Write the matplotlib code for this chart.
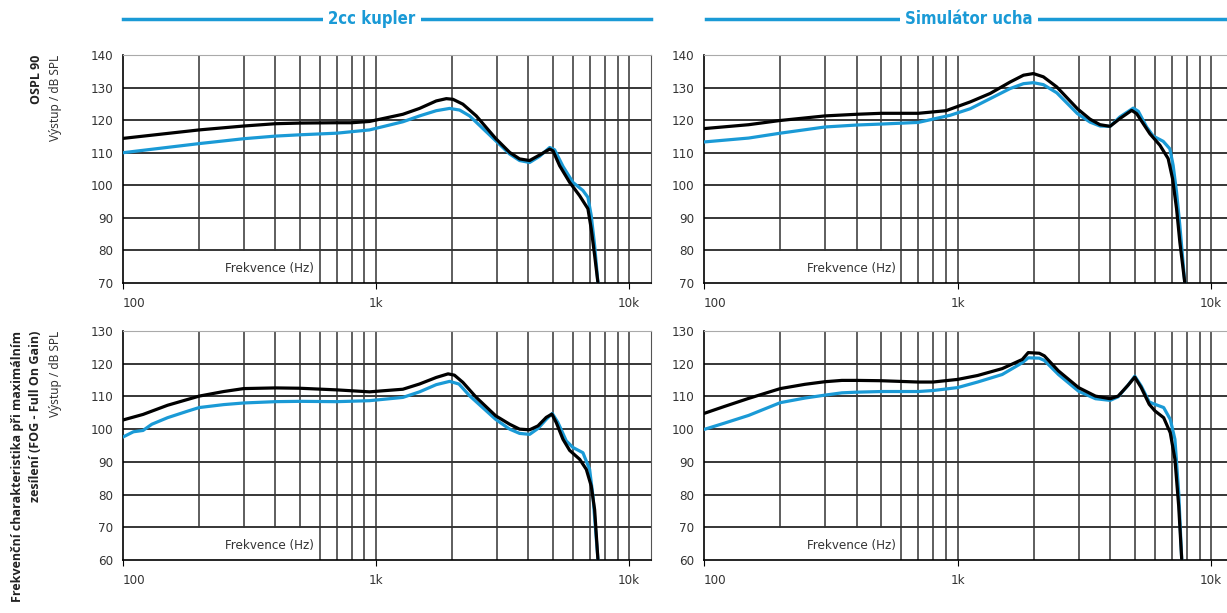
import matplotlib
matplotlib.use("Agg")
from matplotlib import pyplot as plt
from matplotlib.lines import Line2D
from matplotlib.ticker import NullLocator

BLUE = "#1a9ad6"

# --- OSPL 90, 2cc kupler ---
f_ospl_2cc_k = [100, 200, 300, 400, 500, 700, 800, 942, 1276, 1485, 1729, 1895, 2013, 2203,
                2489, 2967, 3372, 3690, 4043, 4428, 4852, 5000, 5313, 5820, 6373, 6872, 7083,
                7305, 7530]
db_ospl_2cc_k = [114.4, 117.0, 118.2, 118.9, 119.1, 119.2, 119.2, 119.6, 121.8, 123.6, 125.9,
                 126.6, 126.4, 124.9, 121.3, 114.4, 110.1, 108.1, 107.6, 109.3, 111.1, 110.6,
                 106.0, 100.9, 96.8, 92.8, 86.6, 78.5, 70.0]
f_ospl_2cc_b = [100, 200, 300, 400, 500, 700, 942, 1276, 1485, 1729, 1952, 2138, 2342, 2967,
                3372, 3690, 4043, 4428, 4852, 5076, 5477, 5995, 6566, 6872, 7083, 7305, 7530]
db_ospl_2cc_b = [110.0, 112.8, 114.3, 115.1, 115.5, 116.0, 117.0, 119.5, 121.3, 122.9, 123.6,
                 123.1, 121.3, 113.7, 109.6, 107.6, 107.0, 108.9, 111.6, 110.9, 105.8, 100.9,
                 98.4, 96.3, 90.7, 81.5, 70.0]

# --- OSPL 90, Simulator ucha ---
f_ospl_sim_k = [100, 150, 200, 300, 400, 500, 700, 900, 1122, 1345, 1612, 1820, 1991, 2180,
                2462, 2970, 3330, 3647, 3993, 4371, 4861, 5085, 5401, 5737, 6281, 6770, 7047,
                7307, 7530, 7876]
db_ospl_sim_k = [117.4, 118.6, 119.9, 121.3, 121.8, 122.1, 122.1, 122.9, 125.6, 128.2, 131.7,
                 133.8, 134.3, 133.3, 130.2, 123.5, 120.3, 118.6, 118.1, 120.5, 123.0, 122.0,
                 118.9, 115.8, 112.3, 108.2, 102.0, 92.8, 82.5, 70.0]
f_ospl_sim_b = [100, 150, 200, 300, 400, 500, 700, 936, 1122, 1345, 1612, 1820, 1991, 2180,
                2462, 2970, 3330, 3647, 3993, 4371, 4933, 5165, 5568, 5912, 6472, 6876, 7085,
                7307, 7530, 7876]
db_ospl_sim_b = [113.3, 114.5, 116.0, 117.9, 118.5, 118.8, 119.3, 121.5, 123.5, 126.6, 129.7,
                 131.2, 131.5, 130.9, 128.4, 122.0, 119.4, 118.2, 118.1, 121.0, 123.7, 122.7,
                 117.9, 115.1, 113.5, 111.2, 106.1, 97.9, 87.6, 70.0]

# --- FOG, 2cc kupler ---
f_fog_2cc_k = [100, 120, 150, 200, 250, 300, 400, 500, 700, 942, 1276, 1485, 1729, 1925, 2040,
               2203, 2489, 2967, 3372, 3690, 4043, 4362, 4704, 4950, 5152, 5477, 5820, 6373,
               6773, 7083, 7305, 7530]
db_fog_2cc_k = [102.8, 104.5, 107.3, 110.1, 111.5, 112.4, 112.6, 112.5, 112.0, 111.4, 112.2,
                113.8, 115.8, 116.9, 116.5, 114.3, 109.7, 104.1, 101.5, 100.0, 99.8, 101.0,
                103.6, 104.6, 102.0, 96.9, 93.5, 90.8, 87.7, 82.6, 75.4, 60.0]
f_fog_2cc_b = [100, 110, 120, 130, 150, 180, 200, 250, 300, 400, 500, 700, 942, 1276, 1485,
               1729, 1952, 2125, 2342, 2967, 3372, 3690, 4043, 4362, 4704, 4969, 5234, 5645,
               5995, 6566, 6979, 7194, 7530]
db_fog_2cc_b = [97.6, 99.2, 99.6, 101.5, 103.5, 105.5, 106.6, 107.5, 108.0, 108.4, 108.5, 108.4,
                108.7, 109.7, 111.4, 113.6, 114.6, 113.8, 110.2, 103.0, 100.0, 98.7, 98.4, 100.2,
                103.0, 104.8, 102.0, 96.4, 94.4, 92.8, 87.7, 79.5, 60.0]

# --- FOG, Simulator ucha ---
f_fog_sim_k = [100, 120, 150, 200, 250, 300, 350, 400, 500, 700, 800, 1000, 1200, 1500, 1800,
               1900, 2100, 2200, 2500, 3000, 3500, 4000, 4300, 4700, 5000, 5300, 5700, 6000,
               6500, 6900, 7200, 7450, 7660]
db_fog_sim_k = [104.8, 106.9, 109.4, 112.4, 113.7, 114.5, 114.9, 114.9, 114.8, 114.4, 114.4,
                115.2, 116.4, 118.5, 121.3, 123.4, 123.2, 122.4, 117.8, 112.7, 110.1, 109.3,
                110.1, 113.4, 115.9, 112.7, 107.6, 105.6, 103.5, 98.9, 90.8, 76.5, 60.0]
f_fog_sim_b = [100, 120, 150, 200, 250, 300, 350, 400, 500, 700, 800, 1000, 1200, 1500, 1800,
               1900, 2100, 2200, 2500, 3000, 3500, 4000, 4300, 4700, 5000, 5300, 5700, 6000,
               6500, 6900, 7200, 7450, 7660]
db_fog_sim_b = [99.9, 101.8, 104.2, 108.1, 109.5, 110.4, 111.1, 111.3, 111.5, 111.5, 111.8,
                112.7, 114.4, 116.7, 120.3, 121.8, 121.7, 121.0, 116.7, 111.6, 109.3, 108.8,
                109.9, 113.4, 116.2, 113.2, 108.3, 107.6, 106.6, 103.0, 96.9, 80.6, 60.0]

grid_freqs = [200, 300, 400, 500, 600, 700, 800, 900, 1000,
              2000, 3000, 4000, 5000, 6000, 7000, 8000, 9000, 10000]

W, H = 1227, 613
fig = plt.figure(figsize=(W / 100, H / 100), dpi=100)


def px_axes(left, top, right, bottom):
    return fig.add_axes([left / W, 1 - bottom / H, (right - left) / W, (bottom - top) / H])


def setup(ax, ymin):
    ymax = ymin + 70
    ax.set_xscale("log")
    ax.set_xlim(100, 12200)
    ax.set_ylim(ymin, ymax)
    for y in range(ymin + 10, ymax, 10):
        ax.axhline(y, color="black", lw=1.1, zorder=1)
    for f in grid_freqs:
        # leave room for the axis label in the lower left corner
        lo = 1 / 7 if f < 560 else 0
        ax.axvline(f, ymin=lo, color="#333333", lw=1.1, zorder=1)
    ax.set_xticks([100, 1000, 10000], ["100", "1k", "10k"])
    ax.xaxis.set_minor_locator(NullLocator())
    ax.set_yticks(range(ymin, ymax + 1, 10))
    ax.tick_params(axis="y", length=0, pad=7, labelsize=9.5, labelcolor="#333333")
    ax.tick_params(axis="x", length=4, pad=6, labelsize=9.5, labelcolor="#333333")
    for lab in ax.get_xticklabels() + ax.get_yticklabels():
        lab.set_fontstretch("condensed")
    ax.get_xticklabels()[0].set_ha("left")
    ax.spines["top"].set_color("#aaaaaa")
    ax.spines["right"].set_color("#555555")
    for s in ["left", "bottom"]:
        ax.spines[s].set_color("black")
        ax.spines[s].set_linewidth(1.2)
    ax.text(0.278, 0.065, "Frekvence (Hz)", transform=ax.transAxes, ha="center", va="center",
            fontsize=9.5, fontstretch="condensed", color="#333333")


panels = [
    ((123, 55, 651, 283), 70, f_ospl_2cc_k, db_ospl_2cc_k, f_ospl_2cc_b, db_ospl_2cc_b),
    ((704, 55, 1233, 283), 70, f_ospl_sim_k, db_ospl_sim_k, f_ospl_sim_b, db_ospl_sim_b),
    ((123, 331, 651, 560), 60, f_fog_2cc_k, db_fog_2cc_k, f_fog_2cc_b, db_fog_2cc_b),
    ((704, 331, 1233, 560), 60, f_fog_sim_k, db_fog_sim_k, f_fog_sim_b, db_fog_sim_b),
]

for box, ymin, fk, dk, fb, db in panels:
    ax = px_axes(*box)
    setup(ax, ymin)
    ax.plot(fb, db, color=BLUE, lw=2.3, zorder=3, solid_joinstyle="round")
    ax.plot(fk, dk, color="black", lw=2.3, zorder=4, solid_joinstyle="round")

# headers
for x0, x1, xc, title in [(123, 651, 372, "2cc kupler"), (706, 1227, 969, "Simulátor ucha")]:
    fig.add_artist(Line2D([x0 / W, x1 / W], [1 - 19 / H] * 2, color=BLUE, lw=2.5))
    fig.text(xc / W, 1 - 19 / H, title, ha="center", va="center", color=BLUE, fontsize=12,
             weight="bold", fontstretch="condensed", bbox=dict(fc="white", ec="none", pad=4))

# row labels
bold_font = ["Open Sans", "DejaVu Sans"]
reg_font = ["Noto Sans", "DejaVu Sans"]
fig.text(36 / W, 1 - 55 / H, "OSPL 90", rotation=90, ha="center", va="top",
         fontsize=9, weight="bold", family=bold_font, color="#222222")
fig.text(56 / W, 1 - 55 / H, "Výstup / dB SPL", rotation=90, ha="center", va="top",
         fontsize=8.5, family=reg_font, color="#333333")
fig.text(18 / W, 1 - 331 / H, "Frekvenční charakteristika při maximálním", rotation=90,
         ha="center", va="top", fontsize=9, weight="bold", family=bold_font, color="#222222")
fig.text(36 / W, 1 - 331 / H, "zesílení (FOG - Full On Gain)", rotation=90,
         ha="center", va="top", fontsize=9, weight="bold", family=bold_font, color="#222222")
fig.text(56 / W, 1 - 331 / H, "Výstup / dB SPL", rotation=90, ha="center", va="top",
         fontsize=8.5, family=reg_font, color="#333333")

fig.savefig("out.png", dpi=100, facecolor="white")
